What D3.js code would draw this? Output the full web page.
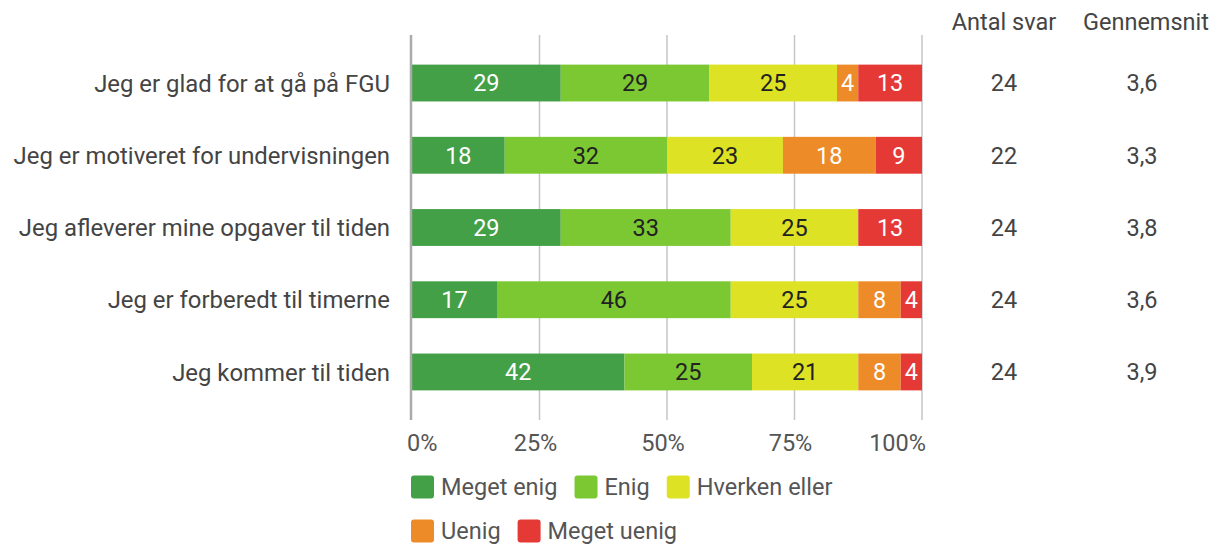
<!DOCTYPE html>
<html lang="da">
<head>
<meta charset="UTF-8">
<title>FGU spørgeskema</title>
<style>
    body { margin: 0; background: #fff; font-family: Roboto, 'Noto Sans', sans-serif; }
    svg text { font-family: Roboto, 'Noto Sans', sans-serif; }
</style>
</head>
<body>
<div id="chart"></div>
<script src="https://d3js.org/d3.v7.min.js"></script>
<script>
    // answer counts per question (shown as rounded percentages)
    const questions = [
        "Jeg er glad for at gå på FGU",
        "Jeg er motiveret for undervisningen",
        "Jeg afleverer mine opgaver til tiden",
        "Jeg er forberedt til timerne",
        "Jeg kommer til tiden"
    ];
    const answers = ["Meget enig", "Enig", "Hverken eller", "Uenig", "Meget uenig"];
    const megetEnig  = [7, 4, 7, 4, 10];
    const enig       = [7, 7, 8, 11, 6];
    const hverken    = [6, 5, 6, 6, 5];
    const uenig      = [1, 4, 0, 2, 2];
    const megetUenig = [3, 2, 3, 1, 1];
    const antalSvar  = [24, 22, 24, 24, 24];
    const gennemsnit = ["3,6", "3,3", "3,8", "3,6", "3,9"];
    const ticks = [0, 25, 50, 75, 100];

    const colors = ["#43a047", "#7cc832", "#dde224", "#ec8b27", "#e53935"];
    const labelColors = ["#fff", "#222", "#222", "#fff", "#fff"];

    const width = 1222, height = 548;
    const x0 = 412, x1 = 922, yTop = 35, yBot = 420;
    const fs = 23.5;

    const rows = questions.map((q, i) => {
        const vals = [megetEnig[i], enig[i], hverken[i], uenig[i], megetUenig[i]];
        const total = d3.sum(vals);
        const r = { question: q };
        answers.forEach((a, j) => r[a] = vals[j] / total * 100);
        r.pct = vals.map(v => Math.round(v / total * 100));
        return r;
    });

    const stacked = d3.stack().keys(answers)(rows);

    const x = d3.scaleLinear().domain([0, 100]).range([x0, x1]);
    const y = d3.scaleBand().domain(questions).range([yTop, yBot])
        .paddingInner(0.49).paddingOuter(0.41);

    const svg = d3.select("#chart").append("svg")
        .attr("width", width).attr("height", height);

    // gridlines
    svg.append("g").selectAll("line")
        .data(ticks.slice(1))
        .enter().append("line")
        .attr("x1", d => x(d)).attr("x2", d => x(d))
        .attr("y1", yTop).attr("y2", yBot)
        .attr("stroke", "#c6c6c6").attr("stroke-width", 1.5);

    // bars
    const layer = svg.append("g").selectAll("g")
        .data(stacked)
        .enter().append("g")
        .attr("fill", (d, i) => colors[i]);

    layer.selectAll("rect")
        .data(d => d)
        .enter().append("rect")
        .attr("x", s => x(s[0]))
        .attr("width", s => x(s[1]) - x(s[0]))
        .attr("y", s => y(s.data.question))
        .attr("height", y.bandwidth());

    // bar value labels
    stacked.forEach((ser, j) => {
        svg.append("g").selectAll("text")
            .data(ser.filter(s => s.data.pct[j] > 0))
            .enter().append("text")
            .attr("x", s => (x(s[0]) + x(s[1])) / 2)
            .attr("y", s => y(s.data.question) + y.bandwidth() / 2)
            .attr("dy", "0.36em")
            .attr("text-anchor", "middle")
            .attr("font-size", fs)
            .attr("fill", labelColors[j])
            .text(s => s.data.pct[j]);
    });

    // left axis line
    svg.append("line")
        .attr("x1", x0 - 1).attr("x2", x0 - 1)
        .attr("y1", yTop).attr("y2", yBot)
        .attr("stroke", "#aaa").attr("stroke-width", 2.5);

    // category labels
    svg.append("g").selectAll("text")
        .data(questions)
        .enter().append("text")
        .attr("x", 390)
        .attr("y", d => y(d) + y.bandwidth() / 2)
        .attr("dy", "0.36em")
        .attr("text-anchor", "end")
        .attr("font-size", 23.9)
        .attr("fill", "#444")
        .text(d => d);

    // x tick labels
    svg.append("g").selectAll("text")
        .data(ticks)
        .enter().append("text")
        .attr("x", (d, i) => i === 0 ? x(d) - 5 : i === ticks.length - 1 ? x(d) + 4 : x(d) - 4)
        .attr("y", 443)
        .attr("dy", "0.36em")
        .attr("text-anchor", (d, i) => i === 0 ? "start" : i === ticks.length - 1 ? "end" : "middle")
        .attr("font-size", fs)
        .attr("fill", "#555")
        .text(d => d + "%");

    // right columns
    const cols = [
        { title: "Antal svar", tx: 1004, cx: 1004, vals: antalSvar },
        { title: "Gennemsnit", tx: 1146, cx: 1142, vals: gennemsnit }
    ];
    cols.forEach(c => {
        svg.append("text")
            .attr("x", c.tx).attr("y", 22).attr("dy", "0.36em")
            .attr("text-anchor", "middle").attr("font-size", fs).attr("fill", "#444")
            .text(c.title);
        svg.append("g").selectAll("text")
            .data(c.vals)
            .enter().append("text")
            .attr("x", c.cx)
            .attr("y", (d, i) => y(questions[i]) + y.bandwidth() / 2)
            .attr("dy", "0.36em")
            .attr("text-anchor", "middle")
            .attr("font-size", fs)
            .attr("fill", "#444")
            .text(d => d);
    });

    // legend, wrapped into rows
    const legend = svg.append("g");
    let lx = x0 - 1, ly = 487;
    answers.forEach((a, i) => {
        const g = legend.append("g");
        g.append("rect")
            .attr("width", 23).attr("height", 23).attr("rx", 3)
            .attr("y", -11.5)
            .attr("fill", colors[i]);
        const t = g.append("text")
            .attr("x", 30).attr("dy", "0.36em")
            .attr("font-size", fs).attr("fill", "#555")
            .text(a);
        const w = 30 + t.node().getComputedTextLength();
        if (lx + w > x1 + 4 && lx > x0) { lx = x0 - 1; ly += 44; }
        g.attr("transform", `translate(${lx},${ly})`);
        lx += w + 17;
    });
</script>
</body>
</html>
